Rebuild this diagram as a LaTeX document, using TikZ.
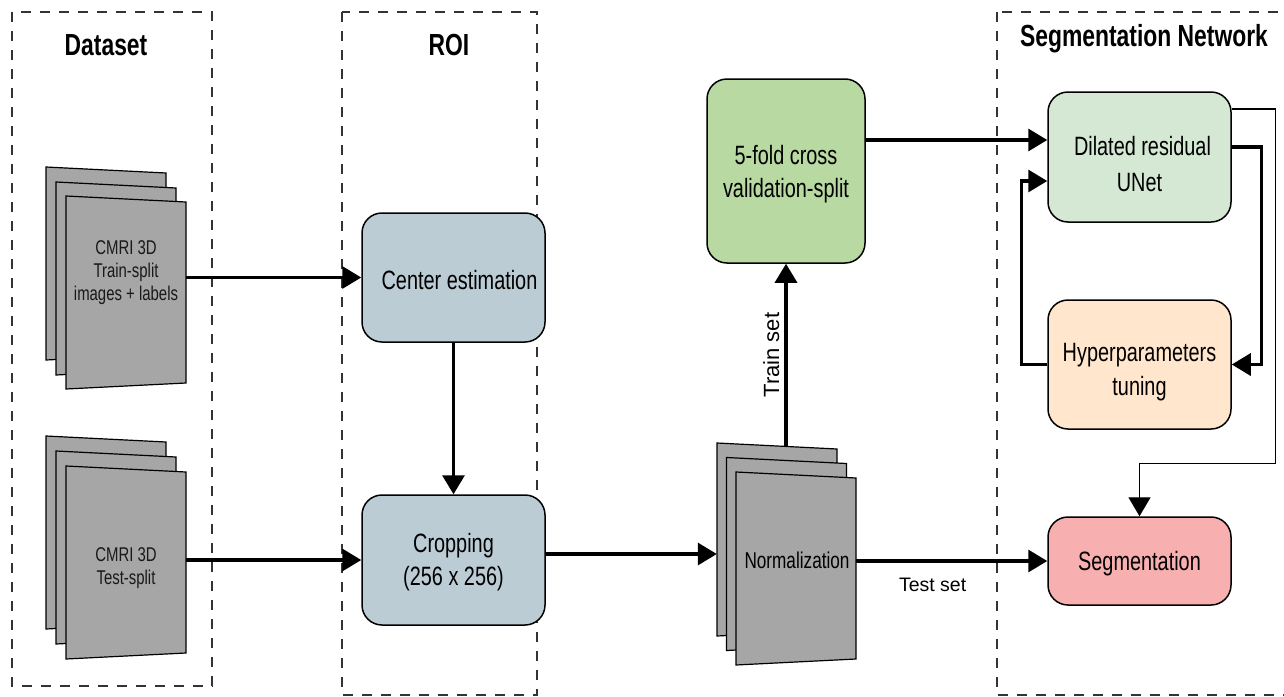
\documentclass[tikz,border=0pt]{standalone}
\usepackage{fontspec}
\setmainfont{Liberation Sans}[FakeStretch=0.75]
\newfontfamily\plainsans{Liberation Sans}
\usetikzlibrary{arrows.meta,calc}
\definecolor{roiblue}{HTML}{BCCCD5}
\definecolor{foldgreen}{HTML}{B8D9A2}
\definecolor{unetgreen}{HTML}{D5E8D4}
\definecolor{hyperorange}{HTML}{FFE6CC}
\definecolor{segred}{HTML}{F7AFB0}
\definecolor{pagegray}{HTML}{A6A6A6}
\tikzset{
  groupbox/.style={draw=black!80, line width=1.2pt, dash pattern=on 10pt off 9pt},
  grouptitle/.style={anchor=base, font=\bfseries\fontsize{30.5}{35}\selectfont},
  procbox/.style={draw=black, line width=1.5pt, rounded corners=20pt, inner sep=0pt},
  proctext/.style={align=center, inner sep=0pt, font=\fontsize{26.5}{33}\selectfont},
  sheetpoly/.style={draw=black, fill=pagegray, line width=1.2pt},
  sheetbox/.style={draw=none, minimum width=120pt, minimum height=193pt, inner sep=0pt},
  sheettext/.style={align=center, text=black!90, font=\fontsize{19.9}{23}\selectfont},
  arr/.style={line width=3.2pt, -{Triangle[length=19pt,width=22pt]}},
  thinarr/.style={line width=1.4pt, -{Triangle[length=19pt,width=22pt]}},
}
\newcommand\sheetshape[2]{\path[sheetpoly] (#1,#2) -- ++(120,6) -- ++(0,181) -- ++(-120,6) -- cycle;}
\begin{document}
\begin{tikzpicture}[x=1pt,y=-1pt]
\useasboundingbox (0,0) rectangle (1284,696);
% group frames
\draw[groupbox] (12,12) rectangle (212,686);
\draw[groupbox] (342,12) rectangle (537,695);
\draw[groupbox] (997,12) rectangle (1300,695);
\node[grouptitle] (tds) at (106,55) {Dataset};
\node[grouptitle] (troi) at (449,55) {ROI};
\node[grouptitle] (tseg) at (1144,46) {Segmentation Network};
% dataset stacks
\sheetshape{46}{167}
\sheetshape{56}{182}
\sheetshape{66}{196}
\node[sheetbox] (train) at (126,292.5) {};
\node[sheettext] (traintxt) at (126,273) {CMRI 3D\\Train-split\\images + labels};
\sheetshape{46}{436}
\sheetshape{56}{451}
\sheetshape{66}{466}
\node[sheetbox] (test) at (126,562.5) {};
\node[sheettext] (testtxt) at (126,568) {CMRI 3D\\Test-split};
% normalization stack
\sheetshape{717}{443}
\sheetshape{726.5}{457.5}
\sheetshape{736}{472}
\node[sheetbox] (normback) at (777,539.5) {};
\node[sheetbox] (norm) at (796,568.5) {};
\node[font=\fontsize{22.9}{26}\selectfont] (normtxt) at (797,560) {Normalization};
% process boxes
\node[procbox, fill=roiblue, minimum width=183pt, minimum height=129pt] (ce) at (453.5,277.5) {};
\node[proctext] (cetxt) at ([xshift=6pt,yshift=-3pt]ce.center) {Center estimation};
\node[procbox, fill=roiblue, minimum width=183pt, minimum height=130pt] (crop) at (453.5,560) {};
\node[proctext] (croptxt) at ([yshift=-2pt]crop.center) {Cropping\\(256 x 256)};
\node[procbox, fill=foldgreen, minimum width=158pt, minimum height=184pt] (fold) at (786,171) {};
\node[proctext] (foldtxt) at ([yshift=-3pt]fold.center) {5-fold cross\\validation-split};
\node[procbox, fill=unetgreen, minimum width=183pt, minimum height=130pt] (dil) at (1139.5,157) {};
\node[proctext, font=\fontsize{26.5}{36}\selectfont] (diltxt) at ([yshift=-7pt]dil.center) {\hspace*{6pt}Dilated residual\\UNet};
\node[procbox, fill=hyperorange, minimum width=183pt, minimum height=129pt] (hyp) at (1139.5,364.5) {};
\node[proctext, font=\fontsize{26.5}{34}\selectfont] (hyptxt) at ([yshift=-8pt]hyp.center) {Hyperparameters\\tuning};
\node[procbox, fill=segred, minimum width=183pt, minimum height=88pt] (seg) at (1139.5,561) {};
\node[proctext] (segtxt) at ([yshift=-3pt]seg.center) {Segmentation};
% connectors
\draw[arr] (train.east |- ce.west) -- (ce.west);
\draw[arr] (test.east |- crop.west) -- (crop.west);
\draw[arr] (ce.south) -- (crop.north);
\draw[arr] ([yshift=6pt]crop.east) coordinate (cout) -- (cout -| normback.west);
\draw[arr] ([yshift=-3.5pt]normback.north -| fold.south) -- (fold.south)
  node[midway, sloped, above, inner sep=5pt, font=\plainsans\fontsize{22}{26}\selectfont] {Train set};
\draw[arr] (norm.east |- seg.west) -- (seg.west)
  node[pos=0.4, below, inner sep=8pt, yshift=-7pt, font=\plainsans\fontsize{19.5}{24}\selectfont] {Test set};
\path ([yshift=17pt]dil.west) coordinate (dilin);
\draw[arr] (fold.east |- dilin) -- (dilin);
\draw[arr] (hyp.west) -- ++(-26,0) |- ([yshift=-24pt]dil.west);
\draw[arr] ([yshift=10pt]dil.east) -- ++(30,0) |- (hyp.east);
\draw[thinarr] ([yshift=48pt]dil.east) -- ++(44,0) |- ([yshift=53pt]seg.north) -- (seg.north);
\end{tikzpicture}
\end{document}
